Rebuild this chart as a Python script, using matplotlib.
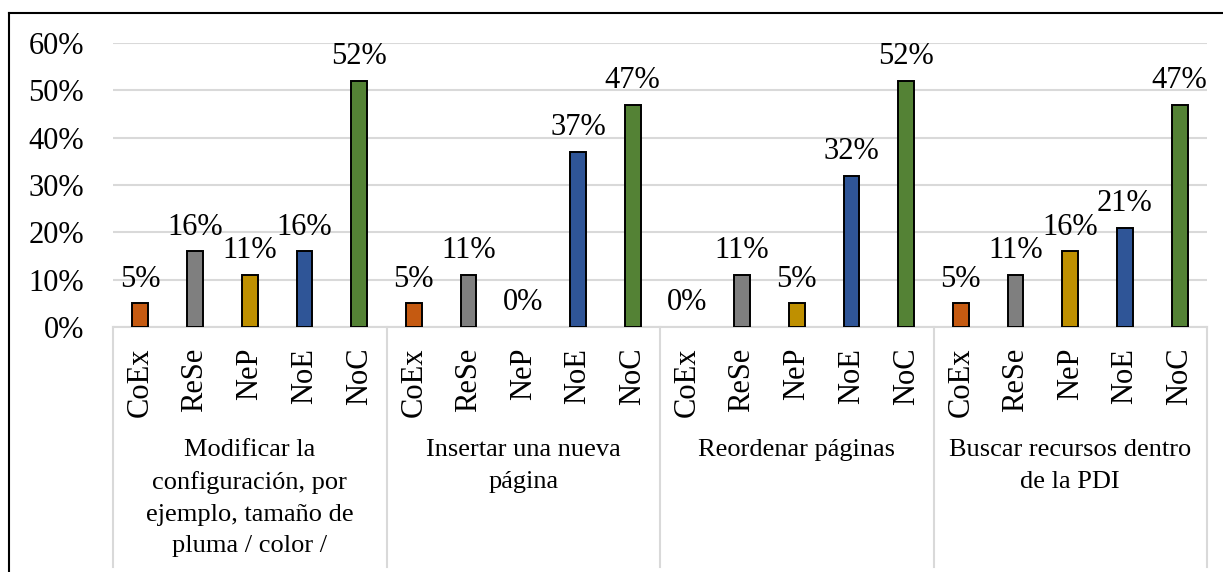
import numpy as np
import matplotlib.pyplot as plt
from matplotlib.lines import Line2D
from matplotlib.transforms import blended_transform_factory

plt.rcParams['font.family'] = ['Liberation Serif', 'DejaVu Serif']

# datos
grupos = ['Modificar la\nconfiguración, por\nejemplo, tamaño de\npluma / color /',
          'Insertar una nueva\npágina',
          'Reordenar páginas',
          'Buscar recursos dentro\nde la PDI']
categorias = ['CoEx', 'ReSe', 'NeP', 'NoE', 'NoC']
colores = ['#C55A11', '#7F7F7F', '#BF9000', '#2F5597', '#548235']

modificar = [5, 16, 11, 16, 52]
insertar = [5, 11, 0, 37, 47]
reordenar = [0, 11, 5, 32, 52]
buscar = [5, 11, 16, 21, 47]
valores = [modificar, insertar, reordenar, buscar]

W, H = 1223, 572
fig = plt.figure(figsize=(W / 100, H / 100), dpi=100)
ax = fig.add_axes([113 / W, 1 - 327 / H, (1207 - 113) / W, (327 - 43) / H])

n = len(categorias)
x = np.arange(len(grupos) * n)
alturas = [v for g in valores for v in g]
cols = colores * len(grupos)
# sin borde cuando el valor es 0 (como en Excel)
bordes = [1.4 if v > 0 else 0 for v in alturas]
ax.bar(x, alturas, width=0.29, color=cols, edgecolor='black', linewidth=bordes, zorder=3)

for xi, v in zip(x, alturas):
    ax.annotate(f'{v}%', (xi, v), xytext=(0, 12), textcoords='offset points',
                ha='center', va='baseline', fontsize=22)

ax.set_xlim(-0.5, len(x) - 0.5)
ax.set_ylim(0, 60)
ax.set_yticks(range(0, 61, 10))
ax.set_yticklabels([f'{t}%' for t in range(0, 61, 10)], fontsize=22)
ax.tick_params(axis='y', length=0, pad=21)
ax.set_xticks(x)
ax.set_xticklabels(categorias * len(grupos), rotation=90, fontsize=22)
ax.tick_params(axis='x', length=0, pad=15)
ax.grid(axis='y', color='#D9D9D9', linewidth=1.5, zorder=0)
for s in ['top', 'right', 'left']:
    ax.spines[s].set_visible(False)
ax.spines['bottom'].set_color('#D9D9D9')
ax.spines['bottom'].set_linewidth(1.5)

# separadores y etiquetas de grupo
tr = blended_transform_factory(ax.transData, fig.transFigure)
for k in range(len(grupos) + 1):
    xs = k * n - 0.5
    fig.add_artist(Line2D([xs, xs], [1 - 327 / H, 1 - 567 / H], transform=tr,
                          color='#D9D9D9', linewidth=1.5))
for k, g in enumerate(grupos):
    ax.text(k * n + (n - 1) / 2, 1 - 439 / H, g, transform=tr, ha='center',
            va='top', fontsize=19, linespacing=1.56, multialignment='center')

# marco
fig.add_artist(Line2D([9 / W, 1], [1 - 13 / H, 1 - 13 / H], color='black', linewidth=1.5))
fig.add_artist(Line2D([9 / W, 9 / W], [1 - 13 / H, 0], color='black', linewidth=1.5))

fig.savefig('out.png', dpi=100)
